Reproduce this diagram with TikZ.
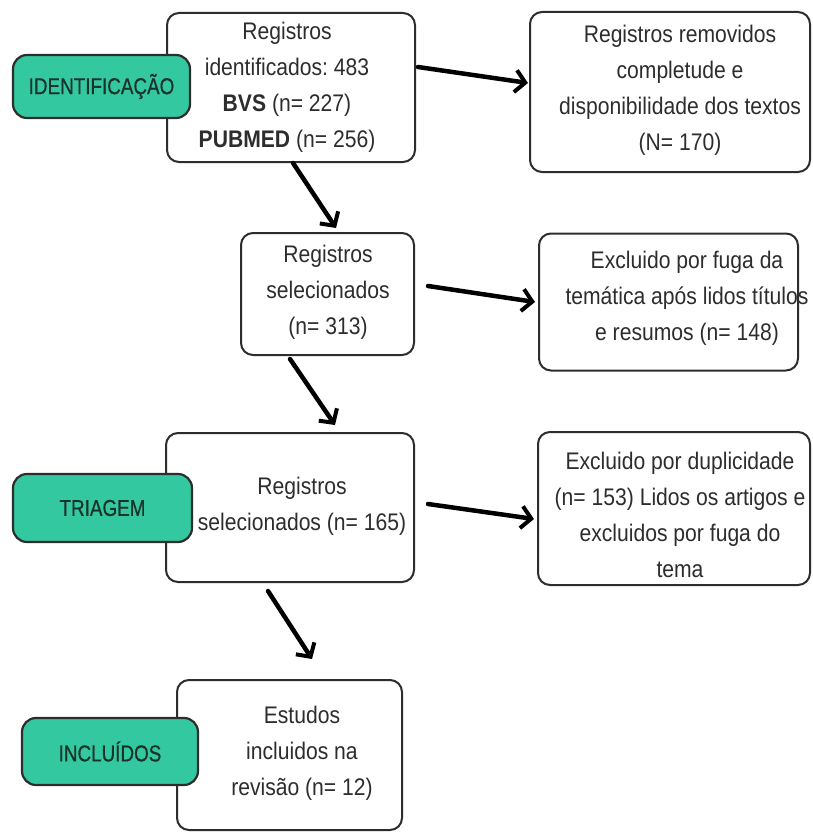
\documentclass[tikz,border=0pt]{standalone}
\usepackage{fontspec}
\setmainfont{Liberation Sans}[FakeStretch=0.88]
\newfontfamily\greenfont{Liberation Sans}[FakeStretch=0.82,FakeBold=0.6]
\usetikzlibrary{arrows.meta}
\frenchspacing
\definecolor{tealbox}{RGB}{52,200,160}
\definecolor{boxline}{RGB}{45,45,45}
\definecolor{txtgray}{RGB}{45,45,45}
\definecolor{greentxt}{RGB}{25,50,42}
\tikzset{
  whitebox/.style={draw=boxline, line width=2pt, rounded corners=12pt, fill=white, inner sep=0pt},
  greenbox/.style={draw=boxline, line width=2.2pt, rounded corners=14pt, fill=tealbox, inner sep=0pt,
     font=\greenfont\fontsize{23}{26}\selectfont, text=greentxt},
  txt/.style={align=center, font=\fontsize{24}{36}\selectfont, text=txtgray, inner sep=0pt},
  arr/.style={line width=4.5pt, black, -{Straight Barb[length=10pt,width=22pt,line width=4pt]}, line cap=round}
}
\begin{document}
\begin{tikzpicture}[x=1pt,y=-1pt]
\useasboundingbox (0,0) rectangle (812,832);
% white boxes
\node[whitebox, minimum width=248pt, minimum height=149pt] (b1) at (291,87.5) {};
\node[whitebox, minimum width=280pt, minimum height=160pt] (b2) at (670,92) {};
\node[whitebox, minimum width=173pt, minimum height=122pt] (b3) at (327.5,294) {};
\node[whitebox, minimum width=259pt, minimum height=137pt] (b4) at (668.5,302) {};
\node[whitebox, minimum width=248pt, minimum height=149pt] (b5) at (290,507.5) {};
\node[whitebox, minimum width=272pt, minimum height=153pt] (b6) at (674,508.5) {};
\node[whitebox, minimum width=225pt, minimum height=150pt] (b7) at (289.5,755) {};
% texts
\node[txt] (t1) at (287,87) {Registros\\identificados: 483\\\textbf{BVS} (n= 227)\\\textbf{PUBMED} (n= 256)};
\node[txt] (t2) at (680,90.5) {Registros removidos\\completude e\\disponibilidade dos textos\\(N= 170)};
\node[txt] (t3) at (328,292) {Registros\\selecionados\\(n= 313)};
\node[txt] (t4) at (687,298.5) {Excluido por fuga da\\temática após lidos títulos\\e resumos (n= 148)};
\node[txt] (t5) at (302,506) {Registros\\selecionados (n= 165)};
\node[txt] (t6) at (680,514.5) {Excluido por duplicidade\\(n= 153) Lidos os artigos e\\excluidos por fuga do\\tema};
\node[txt] (t7) at (302,753) {Estudos\\incluidos na\\revisão (n= 12)};
% green labels
\node[greenbox, minimum width=177pt, minimum height=63pt] (g1) at (101.5,86.5) {IDENTIFICAÇÃO};
\node[greenbox, minimum width=179pt, minimum height=68pt] (g2) at (102.5,508) {TRIAGEM};
\node[greenbox, minimum width=176pt, minimum height=67pt] (g3) at (110,751.5) {INCLUÍDOS};
% arrow end points
\coordinate (a1s) at (418,67);
\coordinate (a1e) at (528,83);
\coordinate (a2s) at (428,286);
\coordinate (a2e) at (535,302);
\coordinate (a3s) at (428,504);
\coordinate (a3e) at (534,519);
\coordinate (d1s) at (293,163);
\coordinate (d1e) at (336,228);
\coordinate (d2s) at (290,359);
\coordinate (d2e) at (335,425);
\coordinate (d3s) at (268,591);
\coordinate (d3e) at (312,659);
\draw[arr] (a1s) -- (a1e);
\draw[arr] (a2s) -- (a2e);
\draw[arr] (a3s) -- (a3e);
\draw[arr] (d1s) -- (d1e);
\draw[arr] (d2s) -- (d2e);
\draw[arr] (d3s) -- (d3e);
\end{tikzpicture}
\end{document}
